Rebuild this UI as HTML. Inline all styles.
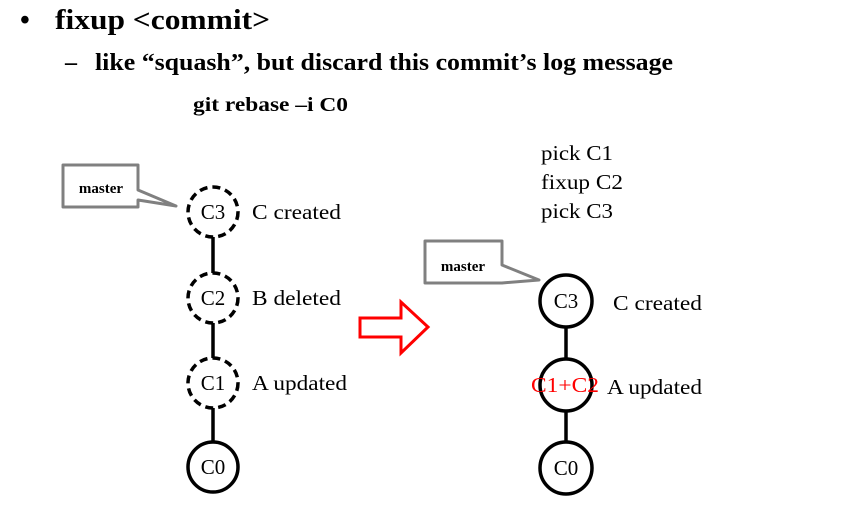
<!DOCTYPE html>
<html><head><style>
body{margin:0;background:#fff;}
</style></head><body>
<svg width="858" height="520" xmlns="http://www.w3.org/2000/svg" font-family="Liberation Serif, serif">
<rect width="858" height="520" fill="#fff"/>
<text x="20" y="29" font-size="28" font-weight="bold">•</text>
<text x="55" y="29" font-size="29" font-weight="bold" textLength="215" lengthAdjust="spacingAndGlyphs">fixup &lt;commit&gt;</text>
<text x="65" y="70" font-size="24" font-weight="bold">–</text>
<text x="95" y="70" font-size="24" font-weight="bold" textLength="578" lengthAdjust="spacingAndGlyphs">like “squash”, but discard this commit’s log message</text>
<text x="193" y="111" font-size="20" font-weight="bold" textLength="155" lengthAdjust="spacingAndGlyphs">git rebase –i C0</text>
<text x="541" y="160" font-size="21" textLength="72" lengthAdjust="spacingAndGlyphs">pick C1</text>
<text x="541" y="189" font-size="21" textLength="82" lengthAdjust="spacingAndGlyphs">fixup C2</text>
<text x="541" y="218" font-size="21" textLength="72" lengthAdjust="spacingAndGlyphs">pick C3</text>
<!-- left -->
<g stroke="#000" stroke-width="3.5">
<line x1="213" y1="237" x2="213" y2="273"/>
<line x1="213" y1="323" x2="213" y2="358"/>
<line x1="213" y1="408" x2="213" y2="442"/>
</g>
<g fill="#fff" stroke="#000" stroke-width="3.5">
<circle cx="213" cy="212" r="25" stroke-dasharray="8,5"/>
<circle cx="213" cy="298" r="25" stroke-dasharray="8,5"/>
<circle cx="213" cy="383" r="25" stroke-dasharray="8,5"/>
<circle cx="213" cy="467" r="25"/>
</g>
<g font-size="21" text-anchor="middle">
<text x="213" y="219">C3</text><text x="213" y="305">C2</text><text x="213" y="390">C1</text><text x="213" y="474">C0</text>
</g>
<g font-size="21">
<text x="252" y="219" textLength="89" lengthAdjust="spacingAndGlyphs">C created</text>
<text x="252" y="305" textLength="89" lengthAdjust="spacingAndGlyphs">B deleted</text>
<text x="252" y="390" textLength="95" lengthAdjust="spacingAndGlyphs">A updated</text>
</g>
<path d="M63,165 H138 V190 L176,206 L138,200 V207 H63 Z" fill="#fff" stroke="#808080" stroke-width="3" stroke-linejoin="round"/>
<text x="101" y="193" font-size="15" font-weight="bold" text-anchor="middle">master</text>
<!-- arrow -->
<path d="M360,318 H401 V302 L428,327 L401,353 V337 H360 Z" fill="#fff" stroke="#f00" stroke-width="3"/>
<!-- right -->
<g stroke="#000" stroke-width="3.5">
<line x1="566" y1="327" x2="566" y2="360"/>
<line x1="566" y1="411" x2="566" y2="443"/>
</g>
<g fill="#fff" stroke="#000" stroke-width="3.5">
<circle cx="566" cy="301" r="26"/>
<circle cx="566" cy="385" r="26"/>
<circle cx="566" cy="468" r="26"/>
</g>
<g font-size="21" text-anchor="middle">
<text x="566" y="308">C3</text><text x="565" y="392" fill="#f00" textLength="68" lengthAdjust="spacingAndGlyphs">C1+C2</text><text x="566" y="475">C0</text>
</g>
<g font-size="21">
<text x="613" y="310" textLength="89" lengthAdjust="spacingAndGlyphs">C created</text>
<text x="607" y="394" textLength="95" lengthAdjust="spacingAndGlyphs">A updated</text>
</g>
<path d="M425,241 H502 V265 L539,280 L502,283 H425 Z" fill="#fff" stroke="#808080" stroke-width="3" stroke-linejoin="round"/>
<text x="463" y="271" font-size="15" font-weight="bold" text-anchor="middle">master</text>
</svg>
</body></html>
